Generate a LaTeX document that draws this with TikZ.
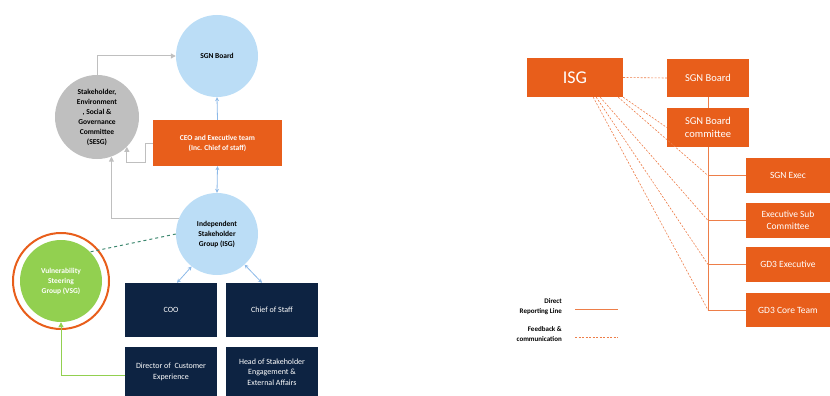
\documentclass[tikz,border=0pt]{standalone}
\usepackage{fontspec}
\setmainfont{Carlito}
\usepackage{tikz}
\usetikzlibrary{arrows.meta,positioning,calc}
\usepackage{xcolor}
\definecolor{sgnorange}{RGB}{232,94,27}
\definecolor{sgnblue}{RGB}{187,221,246}
\definecolor{sgngrey}{RGB}{191,191,191}
\definecolor{sgngreen}{RGB}{146,208,80}
\definecolor{sgnnavy}{RGB}{13,35,66}
\definecolor{arrblue}{RGB}{140,185,232}
\definecolor{fbteal}{RGB}{60,135,110}

\begin{document}
\begin{tikzpicture}[
  x=1pt, y=-1pt,
  font=\fontsize{7.5}{10}\selectfont\bfseries,
  circ/.style={circle, align=center, inner sep=0pt},
  navybox/.style={fill=sgnnavy, text=white, align=center, font=\fontsize{8}{10.5}\selectfont,
                  minimum width=92, minimum height=54, inner sep=0pt},
  obox/.style={fill=sgnorange, text=white, align=center, inner sep=0pt,
               font=\fontsize{10.5}{13}\selectfont},
  ba/.style={arrblue, line width=0.8pt, -{Stealth[length=4pt,width=4pt]}},
  bb/.style={arrblue, line width=0.8pt, {Stealth[length=4pt,width=4pt]}-{Stealth[length=4pt,width=4pt]}},
  ga/.style={sgngrey, line width=1pt, -{Triangle[length=5pt,width=5pt]}},
  rep/.style={sgnorange!80, line width=0.8pt},
  fb/.style={sgnorange!80, line width=0.6pt, dash pattern=on 2pt off 1.5pt},
  el/.style={font=\fontsize{7}{10}\selectfont\bfseries, align=right, inner sep=0pt}
]
\useasboundingbox (0,0) rectangle (830,396);

% ---- left: governance circles ----
\node[circ, fill=sgnblue, minimum size=82] (sgn) at (217,56) {SGN Board};
\node[circ, fill=sgngrey, minimum size=84] (sesg) at (97,117)
  {Stakeholder,\\Environment\\, Social \&\\Governance\\Committee\\(SESG)};
\node[fill=sgnorange, text=white, align=center, minimum width=129, minimum height=46,
      inner sep=0pt] (ceo) at (217.5,143) {CEO and Executive team\\(Inc. Chief of staff)};
\node[circ, fill=sgnblue, minimum size=82] (isg) at (217,234)
  {Independent\\Stakeholder\\Group (ISG)};
\node[circle, draw=sgnorange, line width=2pt, minimum size=96] (vsgring) at (61,281) {};
\node[circ, fill=sgngreen, text=white, minimum size=82] (vsg) at (61,281)
  {Vulnerability\\Steering\\Group (VSG)};

\node[navybox] (coo)   at (171,310) {COO};
\node[navybox] (chief) at (272,310) {Chief of Staff};
\node[navybox, minimum height=50] (dir)  at (171,372) {Director of\ \ Customer\\Experience};
\node[navybox, minimum height=50] (head) at (272,372) {Head of Stakeholder\\Engagement \&\\External Affairs};

\draw[ba] (ceo.north) -- (sgn.south);
\draw[bb] (ceo.south) -- (isg.north);
\draw[bb] (isg.232) -- ($(coo.north)+(6,0)$);
\draw[bb] (isg.-48) -- ($(chief.north)+(-10,0)$);
\draw[ga] (sesg.north) |- (sgn.west);
\draw[ga] (ceo.west) -- ++(-7,0) -- ++(0,19) -| (sesg.-45);
\draw[ga] (isg.158) -| (sesg.-70);
\draw[fbteal, line width=1pt, dashed] (isg.west) -- (vsg.45);
\draw[sgngreen, line width=1pt, -{Triangle[length=5pt,width=5pt]}] (dir.west) ++(0,3) -| (vsg.south);

% ---- right: reporting chart ----
\node[obox, minimum width=96, minimum height=39, font=\fontsize{18}{20}\selectfont] (risg) at (575,77.5) {ISG};
\node[obox, minimum width=82, minimum height=38] (rboard) at (708,78) {SGN Board};
\node[obox, minimum width=82, minimum height=39] (rcomm) at (708,127.5) {SGN Board\\committee};
\node[obox, minimum width=84, minimum height=35, font=\fontsize{9.5}{12}\selectfont] (rexec) at (788,175.5) {SGN Exec};
\node[obox, minimum width=84, minimum height=35, font=\fontsize{9.5}{12}\selectfont] (rsub)  at (788,220.5) {Executive Sub\\Committee};
\node[obox, minimum width=84, minimum height=35, font=\fontsize{9.5}{12}\selectfont] (rgde)  at (788,264.5) {GD3 Executive};
\node[obox, minimum width=84, minimum height=34, font=\fontsize{9.5}{12}\selectfont] (rcore) at (788,310) {GD3 Core Team};

\draw[rep] (rboard) -- (rcomm);
\draw[rep] (rcomm.south) -- (rcomm.south |- rcore.west);
\foreach \n in {rexec,rsub,rgde,rcore}
  \draw[rep] (\n.west) -- (rcomm.south |- \n.west) coordinate (j-\n);

\draw[fb] (risg.east) -- (rboard.west);
\draw[fb] (risg.south east) -- (rcomm.west);
\draw[fb] ($(risg.south east)+(-5,0)$) -- (j-rexec);
\draw[fb] ($(risg.south east)+(-23,0)$) -- (j-rsub);
\draw[fb] ($(risg.south east)+(-27,0)$) -- (j-rgde);
\draw[fb] ($(risg.south east)+(-30,0)$) -- (j-rcore);

% ---- legend ----
\node[el, anchor=east] (lrep) at (562,307) {Direct\\Reporting Line};
\node[el, anchor=east] (lfb)  at (562,334) {Feedback \&\\communication};
\coordinate (lrep0) at (575,309);
\coordinate (lfb0)  at (575,337);
\draw[rep] (lrep0) -- ++(43,0);
\draw[fb]  (lfb0)  -- ++(43,0);
\end{tikzpicture}
\end{document}
